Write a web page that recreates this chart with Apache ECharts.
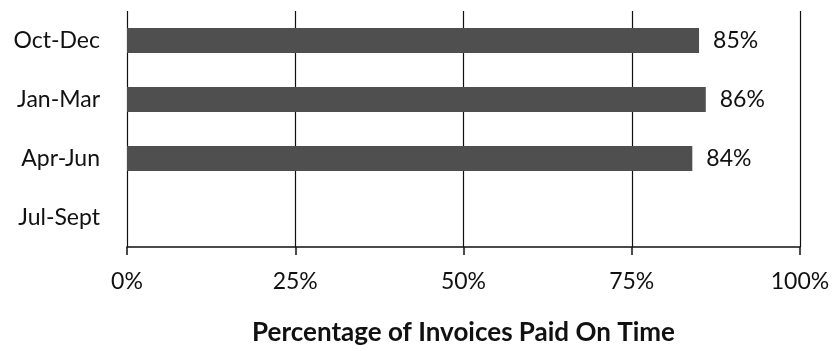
<!DOCTYPE html>
<html>
<head>
<meta charset="utf-8">
<script src="https://cdn.jsdelivr.net/npm/echarts@6/dist/echarts.min.js"></script>
<style>
  html, body { margin: 0; padding: 0; background: #fff; }
  #chart { width: 838px; height: 351px; }
</style>
</head>
<body>
<div id="chart"></div>
<script>
// Quarters, listed top to bottom
const quarters = ['Oct-Dec', 'Jan-Mar', 'Apr-Jun', 'Jul-Sept'];
// Share of invoices paid on time (%); Jul-Sept has no figure yet
const paidOnTime = [85, 86, 84, null];
// Horizontal axis ticks (%)
const xTicks = [0, 25, 50, 75, 100];

const FONT = 'Lato, "Open Sans", sans-serif';
const chart = echarts.init(document.getElementById('chart'), null, { renderer: 'canvas' });

chart.setOption({
  animation: false,
  backgroundColor: '#ffffff',
  grid: { left: 127, right: 38, top: 11, bottom: 98, containLabel: false },
  xAxis: {
    type: 'value',
    min: xTicks[0],
    max: xTicks[xTicks.length - 1],
    interval: xTicks[1] - xTicks[0],
    name: 'Percentage of Invoices Paid On Time',
    nameLocation: 'middle',
    nameGap: 73,
    nameTextStyle: { fontFamily: FONT, fontSize: 26, fontWeight: 'bold', color: '#111' },
    axisLine: { show: true, lineStyle: { color: '#111', width: 1.5 } },
    axisTick: { show: true, length: 8, lineStyle: { color: '#111', width: 1.5 } },
    axisLabel: {
      margin: 23,
      fontFamily: FONT, fontSize: 23, color: '#111',
      formatter: v => v + '%'
    },
    splitLine: { show: true, lineStyle: { color: '#111', width: 1.2 } }
  },
  yAxis: {
    type: 'category',
    data: quarters,
    inverse: true,
    axisLine: { show: false },
    axisTick: { show: false },
    axisLabel: { margin: 27, fontFamily: FONT, fontSize: 23, color: '#111' },
    splitLine: { show: false }
  },
  series: [{
    type: 'bar',
    data: paidOnTime,
    barWidth: '42%',
    itemStyle: { color: '#4f4f4f' },
    label: {
      show: true,
      position: 'right',
      distance: 14,
      fontFamily: FONT, fontSize: 23, color: '#111',
      formatter: p => p.value + '%'
    }
  }]
});
</script>
</body>
</html>
